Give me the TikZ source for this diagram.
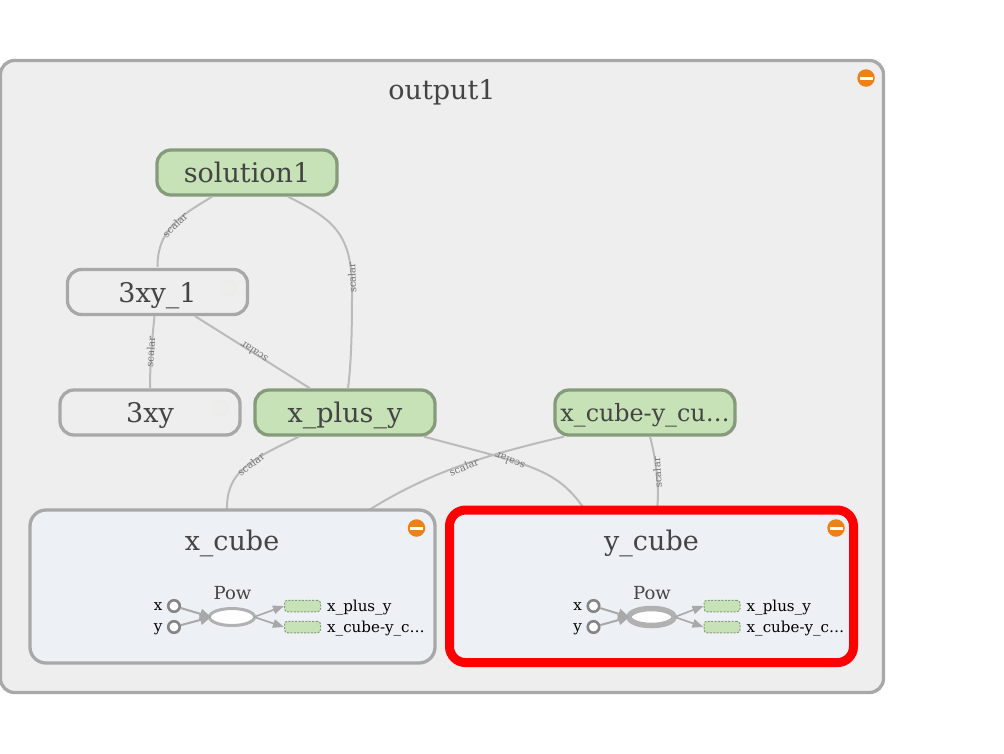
\documentclass[tikz,border=0pt]{standalone}
\usepackage{fontspec}
\setmainfont{DejaVu Serif}
\usetikzlibrary{calc,arrows.meta,shapes.geometric}
\definecolor{metaBg}{HTML}{EEEEEE}
\definecolor{metaLine}{HTML}{A8A8A8}
\definecolor{seriesBg}{HTML}{EDF0F5}
\definecolor{txt}{HTML}{444444}
\definecolor{opFill}{HTML}{C6E2B6}
\definecolor{opLine}{HTML}{869B7C}
\definecolor{edgeC}{HTML}{BBBBBB}
\definecolor{orangeC}{HTML}{EC8118}
\definecolor{faintC}{HTML}{ECECEA}
\tikzset{
  x=1pt,y=-1pt,
  metabox/.style={draw=metaLine,line width=3.3pt,fill=metaBg,rounded corners=14pt,inner sep=0pt,text=txt},
  whitebox/.style={metabox,minimum width=#1,minimum height=45pt,text depth=0pt,font=\fontsize{27}{30}\selectfont},
  greenbox/.style={metabox,draw=opLine,fill=opFill,minimum width=180pt,minimum height=45pt,text depth=0pt,font=\fontsize{27}{30}\selectfont},
  edgeline/.style={draw=edgeC,line width=2pt},
  elabel/.style={font=\fontsize{10}{11}\selectfont,text=black!55,inner sep=0pt},
  title/.style={font=\fontsize{27}{30}\selectfont,text=txt,inner sep=0pt,anchor=base},
  portc/.style={circle,draw=black!48,line width=2.6pt,fill=white,minimum size=11.5pt,inner sep=0pt},
  portt/.style={font=\fontsize{15.1}{17}\selectfont,text=black,inner sep=0pt},
  minirect/.style={draw=opLine,dashed,dash pattern=on 2pt off 1.4pt,line width=1pt,fill=opFill,rounded corners=3pt,minimum width=36pt,minimum height=11.5pt,inner sep=0pt},
  miniarrow/.style={draw=metaLine,line width=2pt,-{Triangle[length=11pt,width=10pt]}},
  miniarrowb/.style={draw=metaLine,line width=1.6pt,-{Triangle[length=11pt,width=8.5pt]}},
}
\newcommand{\badge}[3]{%
  \node[circle,fill=orangeC,minimum size=17.5pt,inner sep=0pt] (#1) at (#2,#3) {};
  \fill[white] ($(#1)+(-6.5,-1.5)$) rectangle ($(#1)+(6.5,1.5)$);}
\newcommand{\faint}[3]{%
  \node[circle,fill=faintC,minimum size=17pt,inner sep=0pt] (#1) at (#2,#3) {};
  \fill[metaBg] ($(#1)+(-5,-1)$) rectangle ($(#1)+(5,1)$);
  \fill[metaBg] ($(#1)+(-1,-5)$) rectangle ($(#1)+(1,5)$);}
\newcommand{\subgraph}[3]{%
  \begin{scope}[shift={(#2,0)}]
    \node[portc] (#1x) at (174,606) {};
    \node[portc] (#1y) at (174,627) {};
    \node[portt,anchor=base east] at (162.5,610.5) {x};
    \node[portt,anchor=base east] at (162.5,631.5) {y};
    \node[ellipse,draw=metaLine!90,fill=white,line width=#3,minimum width=45pt,minimum height=17pt,inner sep=0pt] (#1p) at (232,617) {};
    \node[font=\fontsize{18}{20}\selectfont,text=txt,inner sep=0pt,anchor=base] at (232.5,599) {Pow};
    \node[minirect] (#1a) at (302.5,606) {};
    \node[minirect] (#1b) at (302.5,627) {};
    \node[portt,anchor=base west] at (327,611) {x\_plus\_y};
    \node[portt,anchor=base west] at (327,632) {x\_cube-y\_c…};
    \draw[miniarrow] (#1x) -- ($(#1p.west)+(3,0)$);
    \draw[miniarrow] (#1y) -- ($(#1p.west)+(3,0)$);
    \draw[miniarrowb] ($(#1p.east)+(-2,0)$) -- (#1a.west);
    \draw[miniarrowb] ($(#1p.east)+(-2,0)$) -- (#1b.west);
  \end{scope}}
\begin{document}
\begin{tikzpicture}
\useasboundingbox (0,0) rectangle (1004,753);
% outer group
\node[metabox,minimum width=883pt,minimum height=632pt] (output) at (442,376.5) {};
\node[title] (outputT) at (442,99) {output1};
\badge{outputB}{866}{78}
% nodes
\node[greenbox] (sol) at (247,172.5) {solution1};
\node[whitebox=180pt] (xyone) at (157.5,292) {3xy\_1};
\node[whitebox=180pt] (xy) at (150,412.5) {3xy};
\node[greenbox] (plus) at (345,412.5) {x\_plus\_y};
\node[greenbox,font=\fontsize{23.8}{26}\selectfont] (minus) at (645,412.5) {x\_cube-y\_cu…};
\faint{fa}{229}{288}
\faint{fb}{221}{408}
% edges
\draw[edgeline] ($(sol.south)+(-35,0)$) .. controls (190,211) and (157,225) .. ($(xyone.north)+(0,-1)$);
\draw[edgeline] ($(sol.south)+(41,0)$) .. controls (335,220) and (353,235) .. (352,295) .. controls (352,335) and (351,365) .. ($(plus.north)+(3,0)$);
\draw[edgeline] ($(xyone.south)+(-3,0)$) .. controls (152,340) and (150,365) .. (xy.north);
\draw[edgeline] ($(xyone.south)+(37.5,0)$) -- ($(plus.north)+(-35,0)$);
\draw[edgeline] ($(plus.south)+(-46,0)$) .. controls (250,460) and (226,472) .. (227,510);
\draw[edgeline] ($(plus.south)+(79,0)$) .. controls (530,465) and (555,468) .. (583,507);
\draw[edgeline] ($(minus.south)+(-81,0)$) .. controls (485,455) and (430,472) .. (369,510);
\draw[edgeline] ($(minus.south)+(5,0)$) .. controls (655,455) and (660,485) .. (657,510);
% scalar labels
\node[elabel,rotate=45] (l1) at (175,225) {scalar};
\node[elabel,rotate=92] (l2) at (352,277.7) {scalar};
\node[elabel,rotate=86] (l3) at (150.5,351.7) {scalar};
\node[elabel,rotate=146] (l4) at (254,352) {scalar};
\node[elabel,rotate=36] (l5) at (251,464) {scalar};
\node[elabel,rotate=22] (l6) at (464,467) {scalar};
\node[elabel,rotate=159] (l7) at (510,461) {scalar};
\node[elabel,rotate=94] (l8) at (657.3,472.7) {scalar};
% subgroups
\node[metabox,fill=seriesBg,minimum width=405pt,minimum height=153pt,rounded corners=16pt] (xc) at (232.5,586.5) {};
\node[title] (xcT) at (232,550) {x\_cube};
\badge{xcB}{416.5}{528}
\subgraph{xs}{0}{3pt}
\node[metabox,draw=red,fill=seriesBg,line width=9pt,minimum width=404pt,minimum height=152.5pt,rounded corners=16pt] (yc) at (651.5,586.3) {};
\node[title] (ycT) at (651.5,550) {y\_cube};
\badge{ycB}{836}{528}
\subgraph{ys}{419.5}{5.5pt}
\end{tikzpicture}
\end{document}
